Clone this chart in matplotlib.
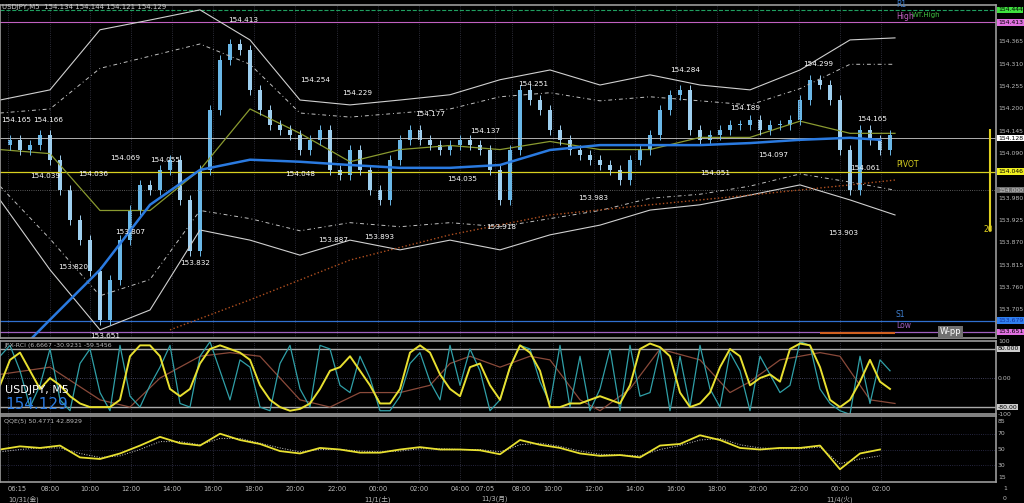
import matplotlib
matplotlib.use("Agg")
import matplotlib.pyplot as plt
from matplotlib.patches import Rectangle
import numpy as np

plt.rcParams['font.family'] = ['DejaVu Sans', 'Noto Sans CJK JP']

# ---- data (x in chart pixel-columns, 10 per step) ----
close = [154.111,154.124,154.099,154.111,154.136,154.075,154.001,153.926,153.877,153.800,
         153.681,153.779,153.877,153.951,154.013,154.001,154.050,154.075,153.976,153.850,
         154.050,154.198,154.321,154.360,154.345,154.247,154.198,154.161,154.148,154.136,
         154.099,154.124,154.148,154.050,154.038,154.099,154.050,154.001,153.976,154.075,
         154.124,154.148,154.124,154.111,154.099,154.111,154.124,154.111,154.099,154.050,
         153.976,154.099,154.247,154.222,154.198,154.148,154.124,154.099,154.087,154.075,
         154.062,154.050,154.025,154.075,154.099,154.136,154.198,154.235,154.247,154.148,
         154.124,154.136,154.148,154.161,154.161,154.173,154.148,154.161,154.161,154.173,
         154.222,154.272,154.260,154.222,154.099,154.000,154.148,154.124,154.099,154.136]
band_x = [0,50,100,150,200,250,300,350,400,450,500,550,600,650,700,750,800,850,895]
bb_up = [154.222,154.247,154.395,154.419,154.444,154.370,154.222,154.210,154.222,154.235,
         154.272,154.296,154.259,154.284,154.259,154.247,154.296,154.370,154.375]
bb_lo = [153.976,153.804,153.656,153.705,153.902,153.877,153.840,153.877,153.853,153.877,
         153.853,153.890,153.914,153.951,153.964,153.988,154.013,153.976,153.939]
bb_up_in = [154.19,154.20,154.30,154.33,154.36,154.31,154.19,154.18,154.19,154.20,154.23,
            154.24,154.22,154.23,154.22,154.21,154.25,154.31,154.31]
bb_lo_in = [154.01,153.88,153.74,153.78,153.95,153.93,153.90,153.92,153.91,153.92,153.91,
            153.93,153.95,153.98,153.99,154.01,154.04,154.02,154.00]
ma_green = [154.10,154.09,153.95,153.95,154.05,154.20,154.14,154.07,154.10,154.11,154.10,
            154.12,154.10,154.10,154.13,154.13,154.17,154.14,154.14]
blue_x = [30,50,100,150,200,250,300,350,400,450,500,550,600,650,700,750,800,850,880]
ma_blue = [153.631,153.681,153.804,153.964,154.050,154.075,154.070,154.062,154.055,154.055,
           154.062,154.099,154.111,154.111,154.111,154.116,154.124,154.129,154.124]
orange_x = [170,250,350,450,550,650,750,850,895]
ma_orange = [153.656,153.730,153.828,153.890,153.939,153.964,153.988,154.013,154.025]

rci_yellow = [-20,50,70,20,-30,0,-20,-50,-70,-80,-80,-80,-60,60,90,90,60,-30,-50,-30,
              40,80,90,80,70,50,-20,-60,-80,-90,-85,-70,-30,20,30,60,20,-20,-70,-70,
              -30,70,90,70,10,-30,-50,30,40,-20,-60,30,90,70,20,-80,-80,-70,-70,-60,
              -50,-60,-70,-20,80,95,85,60,-40,-80,-70,-40,30,80,60,-20,0,10,-10,80,
              95,90,30,-60,-80,-60,-10,50,-10,-30]
rci_cyan = [60,90,20,-80,-20,80,-60,-90,40,80,-40,-90,90,-50,-80,-20,30,90,-70,-80,
            60,100,20,-60,50,30,-80,-90,40,90,-30,-80,90,80,-20,-40,60,0,-90,-90,
            -50,40,70,-10,-60,90,-20,80,20,-90,-60,30,90,80,-10,-70,90,-80,60,-90,
            -30,80,-90,90,-50,-40,80,-90,60,-80,90,-30,-80,70,20,-90,60,10,-40,-20,
            100,90,-30,-70,-90,-100,60,-70,50,20]
brown_x = [0,50,100,130,160,200,230,260,300,330,360,400,430,450,470,500,530,550,580,600,
           630,660,700,730,750,780,820,840,870,895]
rci_brown = [10,30,-60,-80,0,60,70,60,-60,-80,-40,-40,-20,40,60,30,60,50,-60,-90,
             -30,80,50,-40,-10,50,70,60,-60,-70]
qqe = [50,54,52,55,40,38,45,55,66,58,55,70,62,57,48,45,52,50,46,46,50,53,50,50,49,44,
       62,56,52,45,42,43,40,55,57,68,62,52,50,52,52,55,25,45,50]
qqe_sig = [47,50,52,52,45,40,42,50,60,60,56,64,64,58,52,47,50,50,48,47,48,51,51,50,50,47,
           56,58,54,48,44,43,42,50,55,62,64,56,52,51,51,53,32,38,42]

tick_px = [8,50,90,131,172,213,254,295,337,378,419,460,495,512,553,594,635,676,717,758,799,840,881]
tick_lbl = ["06:15","08:00","10:00","12:00","14:00","16:00","18:00","20:00","22:00","00:00",
            "02:00","04:00","07:05","08:00","10:00","12:00","14:00","16:00","18:00","20:00",
            "22:00","00:00","02:00"]
date_px = [8,378,495,840]
date_lbl = ["10/31(金)","11/1(土)","11/3(月)","11/4(火)"]
ann = [(1,120,"154.165"),(33,120,"154.166"),(30,176,"154.039"),(78,174,"154.036"),(58,267,"153.820"),
       (90,336,"153.651"),(115,232,"153.807"),(110,158,"154.069"),(150,160,"154.055"),(180,263,"153.832"),
       (228,20,"154.413"),(300,80,"154.254"),(342,93,"154.229"),(285,174,"154.048"),(318,240,"153.887"),
       (364,237,"153.893"),(415,114,"154.177"),(470,131,"154.137"),(447,179,"154.035"),(486,227,"153.918"),
       (518,84,"154.251"),(578,198,"153.983"),(670,70,"154.284"),(700,173,"154.051"),(730,108,"154.189"),
       (758,155,"154.097"),(803,64,"154.299"),(828,233,"153.903"),(857,119,"154.165"),(850,168,"154.061")]
right_ticks = [154.365,154.310,154.255,154.200,154.145,154.090,153.980,153.925,153.870,153.815,153.760,153.705]

W, H = 1024, 503
XR = 996
fig = plt.figure(figsize=(W/100, H/100), dpi=100, facecolor='black')
def axes_px(y0, y1):
    return fig.add_axes([0, 1-y1/H, XR/W, (y1-y0)/H], facecolor='black')
ax = axes_px(5, 338)
ar = axes_px(341, 414)
aq = axes_px(416, 482)
for a in (ax, ar, aq):
    a.set_xlim(0, XR)
    for s in a.spines.values():
        s.set_color('#9a9a9a'); s.set_linewidth(1.2)
    a.set_xticks([]); a.set_yticks([])
    for t in tick_px:
        a.axvline(t, color='#3a3a4a', lw=0.6, ls=':')
ax.set_ylim(153.636, 154.456)
ar.set_ylim(-99, 102)
aq.set_ylim(8.9, 92.4)

FS = 4.4
LX = XR + 2
ax.axhline(154.444, color='#20a060', lw=0.8, ls='--')
ax.axhline(154.413, color='#c060c0', lw=0.8)
ax.axhline(154.128, color='#cccccc', lw=0.6)
ax.axhline(154.046, color='#d8d020', lw=0.9)
ax.axhline(154.000, color='#777777', lw=0.6, ls=':')
ax.axhline(153.679, color='#3070d0', lw=0.9)
ax.axhline(153.651, color='#a060c0', lw=0.9)

ax.plot(band_x, bb_up, color='#d0d0d0', lw=0.8)
ax.plot(band_x, bb_lo, color='#d0d0d0', lw=0.8)
ax.plot(band_x, bb_up_in, color='#c0c0c0', lw=0.7, ls=(0, (4, 3, 1, 3)))
ax.plot(band_x, bb_lo_in, color='#c0c0c0', lw=0.7, ls=(0, (4, 3, 1, 3)))
ax.plot(band_x, ma_green, color='#8a9a30', lw=0.9)
ax.plot(orange_x, ma_orange, color='#b05020', lw=1.0, ls=':')

xs = np.arange(len(close)) * 10
for i in range(1, len(close)):
    o, c = close[i-1], close[i]
    lo, hi = min(o, c), max(o, c)
    col = '#6ab8e8' if c >= o else '#9fd0f0'
    ax.vlines(xs[i], lo - 0.012, hi + 0.012, color=col, lw=0.7)
    ax.add_patch(Rectangle((xs[i]-2, lo), 4, max(hi-lo, 0.002), color=col, lw=0))
ax.plot(blue_x, ma_blue, color='#2a7ae0', lw=1.8)
ax.vlines(990, 153.90, 154.15, color='#e0d020', lw=1.5)
ax.hlines(153.648, 820, 895, color='#d06020', lw=1.5)

for x, y, t in ann:
    fig.text(x/W, 1-y/H, t, color='white', fontsize=5.2, va='center')
for v in right_ticks:
    ax.text(LX, v, f"{v:.3f}", color='#bbbbbb', fontsize=FS, va='center', clip_on=False)
def box(v, t, fc, tc='black'):
    ax.text(LX, v, t, color=tc, fontsize=FS, va='center', clip_on=False,
            bbox=dict(boxstyle='square,pad=0.1', fc=fc, ec='none'))
box(154.444, "154.444", '#40e040')
box(154.413, "154.413", '#e070e0')
box(154.128, "154.128", '#ffffff')
box(154.046, "154.046", '#f0f020')
box(154.000, "154.000", '#707070', '#cccccc')
box(153.679, "153.679", '#3080f0', '#1030a0')
box(153.651, "153.651", '#e070e0')
ax.text(896, 154.052, "PIVOT", color='#d8d020', fontsize=5.5, va='bottom')
ax.text(896, 154.447, "R1", color='#4080d0', fontsize=5.5, va='bottom')
ax.text(912, 154.438, "WT.High", color='#40c040', fontsize=5, va='top')
ax.text(896, 154.416, "High", color='#c060c0', fontsize=5.5, va='bottom')
ax.text(896, 153.683, "S1", color='#4080d0', fontsize=5.5, va='bottom')
ax.text(896, 153.655, "Low", color='#a060c0', fontsize=5.5, va='bottom')
ax.text(940, 153.651, "W-pp", color='white', fontsize=6, va='center',
        bbox=dict(boxstyle='square,pad=0.2', fc='#707070', ec='none'))
ax.text(984, 153.915, "20", color='#e0d020', fontsize=5.5, va='top')
fig.text(2/W, 1-9/H, "USDJPY,M5  154.134 154.144 154.121 154.129", color='#cccccc', fontsize=5)

# RCI panel
for lv in (80, -80):
    ar.axhline(lv, color='#aaaaaa', lw=1.0)
ar.axhline(0, color='#555577', lw=0.6, ls=':')
ar.plot(brown_x, rci_brown, color='#8a4a3a', lw=0.9)
ar.plot(xs, rci_cyan, color='#30a0a8', lw=0.9)
ar.plot(xs, rci_yellow, color='#e8e030', lw=1.4)
ar.text(4, 97, "JFX-RCI (6.6667 -30.9231 -59.5456", color='#bbbbbb', fontsize=4.5, va='top')
ar.text(5, -32, "USDJPY, M5", color='white', fontsize=8, va='center')
ar.text(5, -72, "154.129", color='#2a7ae0', fontsize=11, va='center')
for v, t in ((100, "100"), (0, "0.00"), (-100, "-100")):
    ar.text(LX, v, t, color='#bbbbbb', fontsize=FS, va='center', clip_on=False)
ar.text(LX, 80, "80.000", color='black', fontsize=FS, va='center', clip_on=False,
        bbox=dict(boxstyle='square,pad=0.1', fc='#cccccc', ec='none'))
ar.text(LX, -80, "-80.00", color='black', fontsize=FS, va='center', clip_on=False,
        bbox=dict(boxstyle='square,pad=0.1', fc='#cccccc', ec='none'))

# QQE panel
qx = np.arange(len(qqe)) * 20
for lv in (70, 50, 30):
    aq.axhline(lv, color='#333355', lw=0.6, ls=':')
aq.plot(qx, qqe_sig, color='#cccccc', lw=0.7, ls=':')
aq.plot(qx, qqe, color='#e8e030', lw=1.3)
aq.text(4, 88, "QQE(5) 50.4771 42.8929", color='#bbbbbb', fontsize=4.5, va='top')
for v in (85, 70, 50, 30, 15):
    aq.text(LX, v, str(v), color='#bbbbbb', fontsize=FS, va='center', clip_on=False)

for p, t in zip(tick_px, tick_lbl):
    ha = 'left' if p < 20 else ('right' if t == "07:05" else 'center')
    if t == "08:00" and p == 512:
        ha = 'left'
    fig.text(p/W, 1-489/H, t, color='#bbbbbb', fontsize=4.8, ha=ha, va='center')
for p, t in zip(date_px, date_lbl):
    fig.text(p/W, 1-499/H, t, color='#bbbbbb', fontsize=4.8, ha='left' if p < 20 else 'center', va='center')
fig.text(1003/W, 1-488/H, "1", color='#bbbbbb', fontsize=FS, va='center')
fig.text(1003/W, 1-498/H, "0", color='#bbbbbb', fontsize=FS, va='center')

fig.savefig("out.png", dpi=100, facecolor='black')
